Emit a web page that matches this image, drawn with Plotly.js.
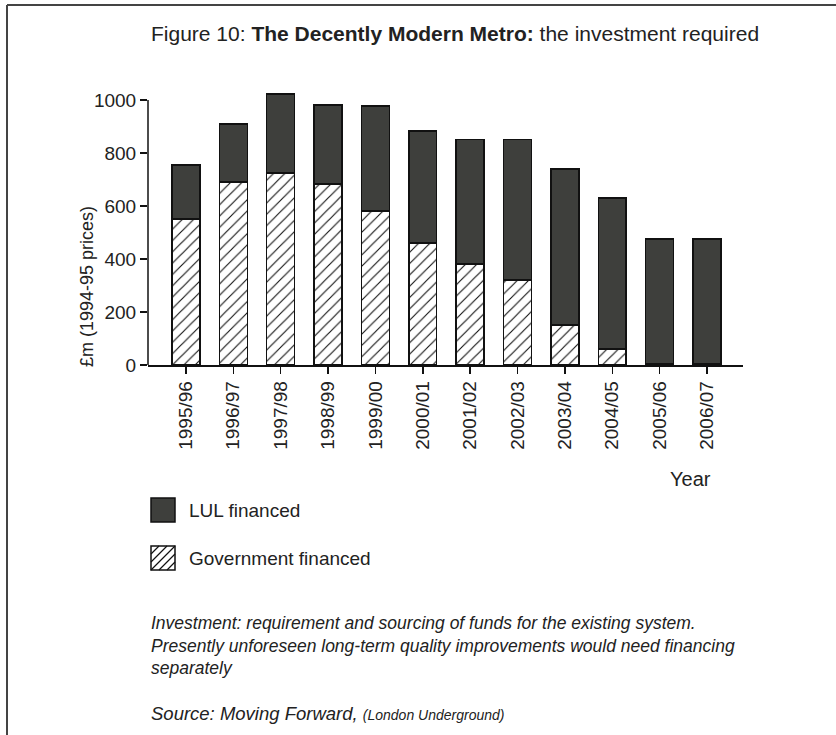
<!DOCTYPE html>
<html>
<head>
<meta charset="utf-8">
<script src="https://cdn.plot.ly/plotly-3.0.1.min.js"></script>
<style>html,body{margin:0;padding:0;background:#fff;}#chart{width:836px;height:735px;}</style>
</head>
<body>
<div id="chart"></div>
<script>
// Data
const years = ["1995/96","1996/97","1997/98","1998/99","1999/00","2000/01","2001/02","2002/03","2003/04","2004/05","2005/06","2006/07"];
const govFinanced = [551, 690, 725, 683, 581, 460, 381, 321, 151, 60, 5, 5];
const lulFinanced = [204, 219, 298, 298, 396, 423, 470, 530, 589, 570, 470, 470];
const yTicks = [0, 200, 400, 600, 800, 1000];

const W = 836, H = 735;
const L = 148, R = 743, T = 84, B = 365;
const px = x => (x - L) / (R - L);
const py = y => (B - y) / (B - T);
const txt = '#222';
const font = 'Liberation Sans, Arial, sans-serif';

const traces = [
  {
    type: 'bar', x: years, y: govFinanced, name: 'Government financed',
    marker: {color: '#ffffff', line: {color: '#111', width: 1.5},
      pattern: {shape: '/', fgcolor: '#111', bgcolor: '#ffffff', size: 8, solidity: 0.14}},
    hoverinfo: 'skip'
  },
  {
    type: 'bar', x: years, y: lulFinanced, name: 'LUL financed',
    marker: {color: '#3e3f3c', line: {color: '#111', width: 1.5}},
    hoverinfo: 'skip'
  }
];

// hatch path for legend box
const bx0 = 151, bx1 = 175, by0 = 546, by1 = 570;
let hatch = '';
for (let k = -24; k <= 24; k += 8) {
  let x0 = bx0 + k, y0 = by1, x1 = bx0 + k + 24, y1 = by0;
  if (x0 < bx0) { y0 = by1 - (bx0 - x0); x0 = bx0; }
  if (x1 > bx1) { y1 = by0 + (x1 - bx1); x1 = bx1; }
  if (x1 <= x0) continue;
  hatch += `M${px(x0)},${py(y0)} L${px(x1)},${py(y1)} `;
}

const shapes = [
  // frame
  {type: 'line', xref: 'paper', yref: 'paper', x0: px(7), x1: px(836), y0: py(5), y1: py(5), line: {color: '#444', width: 2}},
  {type: 'line', xref: 'paper', yref: 'paper', x0: px(7), x1: px(7), y0: py(5), y1: py(735), line: {color: '#444', width: 2}},
  // y axis line
  {type: 'line', xref: 'paper', yref: 'y', x0: 0, x1: 0, y0: 0, y1: 1000, line: {color: '#111', width: 1.5}},
  // legend boxes
  {type: 'rect', xref: 'paper', yref: 'paper', x0: px(151), x1: px(175), y0: py(498), y1: py(522), fillcolor: '#3e3f3c', line: {color: '#111', width: 1.5}},
  {type: 'rect', xref: 'paper', yref: 'paper', x0: px(bx0), x1: px(bx1), y0: py(by0), y1: py(by1), fillcolor: '#fff', line: {color: '#111', width: 1.5}},
  {type: 'path', xref: 'paper', yref: 'paper', path: hatch, line: {color: '#111', width: 1.2}}
];

function ann(text, x, y, size, opts) {
  return Object.assign({xref: 'paper', yref: 'paper', x: px(x), y: py(y), text: text, showarrow: false,
    xanchor: 'left', yanchor: 'middle', font: {family: font, size: size, color: txt}}, opts || {});
}

const annotations = [
  ann('Figure 10: <b>The Decently Modern Metro:</b> the investment required', 455, 33, 21, {xanchor: 'center'}),
  ann('£m (1994-95 prices)', 87, 287, 18, {xanchor: 'center', textangle: -90}),
  ann('Year', 690, 479, 20, {xanchor: 'center'}),
  ann('LUL financed', 187, 510, 19),
  ann('Government financed', 187, 558, 19),
  ann('<i>Investment: requirement and sourcing of funds for the existing system.</i>', 149, 623, 17.5),
  ann('<i>Presently unforeseen long-term quality improvements would need financing</i>', 149, 646, 17.5),
  ann('<i>separately</i>', 149, 668, 17.5),
  ann('<i>Source: Moving Forward, <span style="font-size:14px">(London Underground)</span></i>', 149, 713, 18.5)
];

const layout = {
  width: W, height: H,
  margin: {l: L, r: W - R, t: T, b: H - B, pad: 0},
  paper_bgcolor: '#fff', plot_bgcolor: 'rgba(0,0,0,0)',
  barmode: 'stack', bargap: 0.41,
  showlegend: false,
  font: {family: font, color: txt},
  xaxis: {
    type: 'category', range: [-0.8, 11.76], showline: true, linecolor: '#111', linewidth: 1.5,
    ticks: 'outside', ticklen: 7, tickcolor: '#111', tickwidth: 1.5, tickangle: -90,
    tickfont: {family: font, size: 19, color: txt}, showgrid: false, zeroline: false, fixedrange: true
  },
  yaxis: {
    range: [0, 1060], tickvals: yTicks, ticktext: yTicks.map(String), showline: false,
    ticks: 'outside', ticklen: 7, tickcolor: '#111', tickwidth: 1.5,
    tickfont: {family: font, size: 19, color: txt}, showgrid: false, zeroline: false, fixedrange: true
  },
  shapes: shapes,
  annotations: annotations
};

Plotly.newPlot('chart', traces, layout, {displayModeBar: false, staticPlot: true});
</script>
</body>
</html>
